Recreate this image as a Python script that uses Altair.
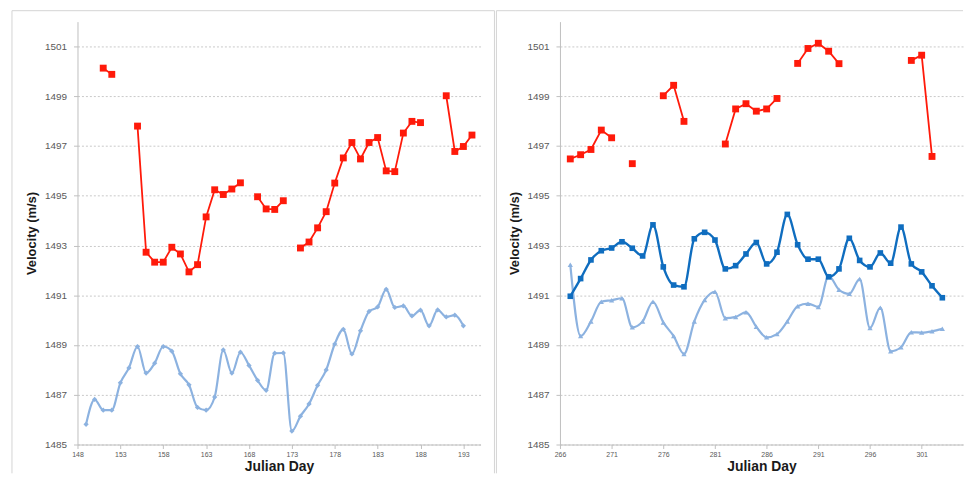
import altair as alt
import pandas as pd

# ---------------- data ----------------
L_RED_DAYS = list(range(151, 195))
L_RED = [1500.13, 1499.88, None, None, 1497.80, 1492.73, 1492.33, 1492.33, 1492.93, 1492.66,
         1491.94, 1492.23, 1494.15, 1495.24, 1495.05, 1495.27, 1495.52, None, 1494.96, 1494.47,
         1494.45, 1494.80, None, 1492.90, 1493.14, 1493.71, 1494.36, 1495.51, 1496.52, 1497.14,
         1496.48, 1497.14, 1497.34, 1496.00, 1495.97, 1497.52, 1497.99, 1497.94, None, None,
         1499.02, 1496.78, 1496.98, 1497.44]

L_LB_DAYS = list(range(149, 194))
L_LB = [1485.81, 1486.81, 1486.38, 1486.38, 1487.48, 1488.08, 1488.94, 1487.87, 1488.27, 1488.94,
        1488.75, 1487.84, 1487.40, 1486.49, 1486.38, 1486.91, 1488.80, 1487.87, 1488.71, 1488.18,
        1487.58, 1487.18, 1488.67, 1488.68, 1485.54, 1486.14, 1486.63, 1487.38, 1488.00, 1489.04,
        1489.63, 1488.64, 1489.57, 1490.35, 1490.53, 1491.24, 1490.51, 1490.57, 1490.17, 1490.40,
        1489.77, 1490.41, 1490.13, 1490.20, 1489.77]

R_RED_DAYS = list(range(267, 303))
R_RED = [1496.48, 1496.65, 1496.86, 1497.64, 1497.33, None, 1496.29, None, None, 1499.02,
         1499.44, 1497.99, None, None, None, 1497.08, 1498.49, 1498.70, 1498.40, 1498.49,
         1498.91, None, 1500.32, 1500.92, 1501.13, 1500.81, 1500.31, None, None, None,
         None, None, None, 1500.44, 1500.65, 1496.58]

R_DB_DAYS = list(range(267, 304))
R_DB = [1490.96, 1491.67, 1492.42, 1492.79, 1492.90, 1493.15, 1492.89, 1492.58, 1493.83, 1492.14,
        1491.41, 1491.34, 1493.27, 1493.53, 1493.22, 1492.06, 1492.19, 1492.66, 1493.12, 1492.26,
        1492.73, 1494.25, 1493.03, 1492.45, 1492.45, 1491.74, 1492.06, 1493.29, 1492.40, 1492.14,
        1492.70, 1492.29, 1493.74, 1492.26, 1491.94, 1491.38, 1490.90]

R_LB_DAYS = list(range(267, 304))
R_LB = [1492.23, 1489.36, 1489.95, 1490.74, 1490.80, 1490.88, 1489.71, 1489.95, 1490.74, 1489.91,
        1489.36, 1488.64, 1489.95, 1490.81, 1491.14, 1490.08, 1490.13, 1490.32, 1489.73, 1489.31,
        1489.44, 1489.95, 1490.56, 1490.66, 1490.53, 1491.78, 1491.22, 1491.06, 1491.65, 1489.68,
        1490.50, 1488.75, 1488.91, 1489.51, 1489.50, 1489.55, 1489.65]

L_XTICKS = [148, 153, 158, 163, 168, 173, 178, 183, 188, 193]
R_XTICKS = [266, 271, 276, 281, 286, 291, 296, 301]
Y_TICKS = [1485, 1487, 1489, 1491, 1493, 1495, 1497, 1499, 1501]

RED = "#ff1a0a"
DBLUE = "#0f6dbf"
LBLUE = "#8cb2e0"
GRID = "#c9c9c9"
AXIS = "#bfbfbf"
FONT = "Liberation Sans"
PLOT_W = 406
PLOT_H = 426


def frame(days, vals):
    return pd.DataFrame({"day": days, "v": vals})


def panel(xdomain, xticks, series, border_left, border_right):
    x = alt.X("day:Q",
              scale=alt.Scale(domain=xdomain, nice=False, zero=False),
              axis=alt.Axis(values=xticks, title="Julian Day", grid=False, format="d",
                            domainColor=AXIS, tickColor=AXIS, tickSize=4,
                            labelFontSize=7, labelColor="#595959", labelPadding=2,
                            labelFont=FONT, titleFont=FONT, titleFontSize=14,
                            titleFontWeight="bold", titleColor="#1a1a1a",
                            titlePadding=2, labelFlush=False))
    y = alt.Y("v:Q",
              scale=alt.Scale(domain=[1485, 1502], nice=False, zero=False),
              axis=alt.Axis(values=Y_TICKS, title="Velocity (m/s)", grid=True, format="d",
                            gridColor=GRID, gridDash=[2, 2], gridWidth=1,
                            domainColor=AXIS, tickColor=AXIS, tickSize=4,
                            labelFontSize=10, labelColor="#595959", labelPadding=7,
                            labelFont=FONT, titleFont=FONT, titleFontSize=13,
                            titleFontWeight="bold", titleColor="#1a1a1a",
                            titlePadding=6))
    layers = []
    one = pd.DataFrame({"a": [0]})
    right_end = border_right if border_right is not None else PLOT_W
    # panel border (decoration)
    layers.append(alt.Chart(one).mark_rule(color="#d4d4d4", strokeWidth=1).encode(
        x=alt.value(border_left), x2=alt.value(right_end), y=alt.value(-11)))
    layers.append(alt.Chart(one).mark_rule(color="#d4d4d4", strokeWidth=1).encode(
        x=alt.value(border_left), y=alt.value(-11), y2=alt.value(455)))
    if border_right is not None:
        layers.append(alt.Chart(one).mark_rule(color="#d4d4d4", strokeWidth=1).encode(
            x=alt.value(border_right), y=alt.value(-11), y2=alt.value(455)))
    for s in series:
        d = frame(s["days"], s["vals"])
        layers.append(alt.Chart(d).mark_line(color=s["color"], strokeWidth=s["lw"],
                                             interpolate=s["interp"]).encode(x=x, y=y))
        layers.append(alt.Chart(d).mark_point(color=s["color"], filled=True, opacity=1,
                                              shape=s["shape"], size=s["size"]).encode(x=x, y=y))
    return alt.layer(*layers).properties(width=PLOT_W, height=PLOT_H)


left = panel([148, 195], L_XTICKS, [
    dict(days=L_LB_DAYS, vals=L_LB, color=LBLUE, lw=2.2, interp="monotone", shape="diamond", size=28),
    dict(days=L_RED_DAYS, vals=L_RED, color=RED, lw=1.8, interp="linear", shape="square", size=48),
], -66, 420)

right = panel([266, 305], R_XTICKS, [
    dict(days=R_LB_DAYS, vals=R_LB, color=LBLUE, lw=2.2, interp="monotone", shape="triangle-up", size=28),
    dict(days=R_DB_DAYS, vals=R_DB, color=DBLUE, lw=2.4, interp="monotone", shape="square", size=32),
    dict(days=R_RED_DAYS, vals=R_RED, color=RED, lw=1.8, interp="linear", shape="square", size=48),
], -64, None)

chart = alt.hconcat(left, right, spacing=0).properties(
    padding={"left": 3, "top": 0, "right": 0, "bottom": 0},
    background="white",
).configure_view(stroke=None)

chart.save("out.html", embed_options={"renderer": "svg", "actions": False})
